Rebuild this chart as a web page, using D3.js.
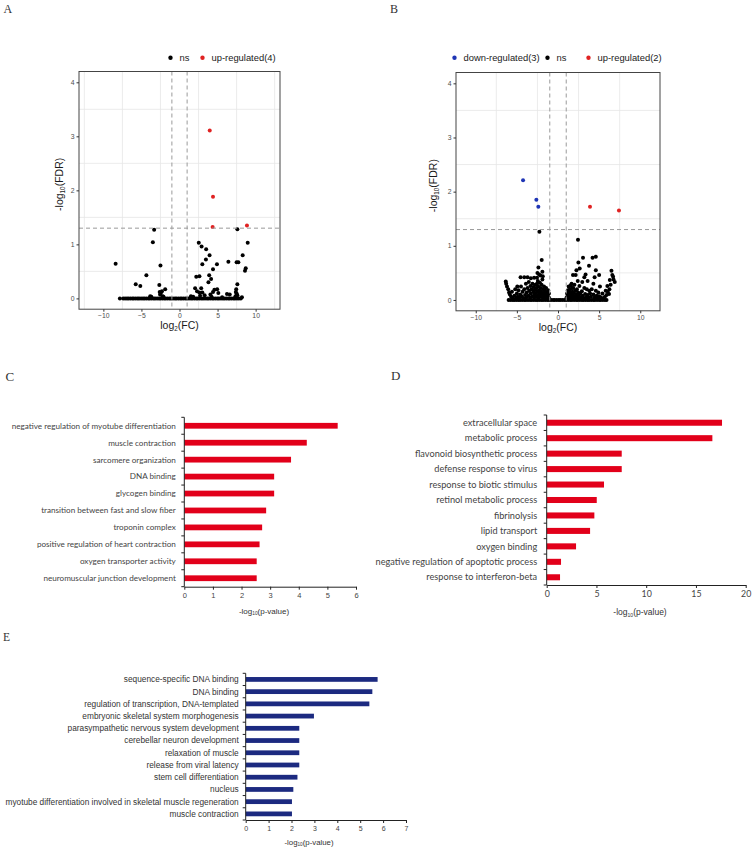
<!DOCTYPE html>
<html><head><meta charset="utf-8">
<script src="https://cdn.jsdelivr.net/npm/d3@7"></script>
<style>body{margin:0;background:#fff}</style>
</head><body>
<svg id="chart" width="753" height="851" xmlns="http://www.w3.org/2000/svg"></svg>
<script>
// ---------- Panel A (volcano) ----------
const aUp = [[3.97,3.11],[4.4,1.88],[4.35,1.32],[8.86,1.35]];
const aNs = [[-3.33,1.27],[-3.5,1.04],[-8.39,0.64],[-2.5,0.61],[-4.35,0.43],[-5.75,0.26],[-5.15,0.23],
  [-2.65,0.25],[-1.88,0.17],[-2.6,0.12],[-2.45,0.10],[-2.3,0.13],[-2.55,0.07],[-3.85,0.04],[-2.2,0.04],
  [2.53,1.03],[2.9,0.96],[3.5,0.91],[3.95,0.8],[3.47,0.72],[3.0,0.63],[4.92,0.63],[4.4,0.54],[3.9,0.43],
  [2.62,0.41],[2.2,0.40],[4.15,0.36],[3.8,0.30],[6.42,0.68],[7.5,0.67],[7.73,0.67],[8.3,0.8],[8.96,1.03],
  [8.7,0.56],[8.6,0.51],[7.6,1.28],[7.6,0.26],[7.45,0.17],[7.4,0.12],[7.5,0.09],[7.6,0.06],[7.35,0.04],
  [6.6,0.07],[5.1,0.1],[4.95,0.17],[2.05,0.19],[2.85,0.19],[2.3,0.13],[2.6,0.11],[3.0,0.11],[4.58,0.16],
  [4.4,0.12],[4.06,0.07],[6.24,0.08],[8.2,0.02],[3.3,0.06],[1.5,0.04],[1.8,0.03],[2.7,0.05],[-7.83,0],
  [-3.7,0.03],[-2.1,0.03],[1.6,0.02],[4.2,0.03],[5.6,0.02]];
const aNsBaselineX = [-7.4,-7.15,-6.9,-6.7,-6.45,-6.2,-6.0,-5.75,-5.5,-5.3,-5.05,-4.8,-4.6,-4.35,-4.1,-3.9,
  -3.65,-3.4,-3.2,-2.95,-2.7,-2.5,-2.25,-2.0,-1.8,-1.55,-1.3,-1.1,-0.85,-0.6,-0.4,-0.15,0.1,0.3,0.55,0.8,1.0,
  1.25,1.5,1.7,1.95,2.2,2.4,2.65,2.9,3.1,3.35,3.6,3.8,4.05,4.3,4.5,4.75,5.0,5.2,5.45,5.7,5.9,6.15,6.4,6.6,
  6.85,7.1,7.3,7.55,7.8,8.05];
const aLegend = ["ns", "up-regulated(4)"];

// ---------- Panel B (volcano) ----------
const bDown = [[-4.25,2.21],[-2.63,1.85],[-2.39,1.72]];
const bUp = [[3.89,1.72],[7.41,1.65]];
const bNs = [[-2.26,1.26],[2.43,1.11],[-1.98,0.74],[-2.38,0.60],[-1.9,0.52],[-6.35,0.34],[-6.3,0.30],
  [-6.2,0.25],[-6.05,0.2],[-5.95,0.14],[-5.85,0.1],[-5.7,0.06],[-4.55,0.42],[-4.1,0.42],[-3.7,0.42],
  [-3.3,0.40],[-2.9,0.41],[-2.55,0.41],[-2.3,0.47],[-2.45,0.35],
  [-5.5,0.04],[-5.3,0.08],[-5.1,0.03],[-5.0,0.12],[-4.9,0.06],[-4.8,0.18],[-4.7,0.04],[-4.6,0.1],[-4.5,0.25],
  [-4.4,0.07],[-4.3,0.15],[-4.2,0.03],[-4.1,0.2],[-4.0,0.09],[-3.9,0.3],[-3.85,0.05],[-3.8,0.14],[-3.7,0.22],
  [-3.6,0.08],[-3.55,0.33],[-3.5,0.17],[-3.4,0.04],[-3.35,0.26],[-3.3,0.12],[-3.2,0.2],[-3.15,0.07],[-3.1,0.3],
  [-3.0,0.15],[-2.95,0.24],[-2.9,0.05],[-2.85,0.1],[-2.8,0.19],[-2.75,0.28],[-2.7,0.13],[-2.65,0.06],[-2.6,0.22],
  [-2.55,0.3],[-2.5,0.16],[-2.45,0.09],[-2.4,0.25],[-2.35,0.04],[-2.3,0.18],[-2.25,0.12],[-2.2,0.32],[-2.15,0.07],
  [-2.1,0.22],[-2.05,0.15],[-2.0,0.28],[-1.95,0.1],[-1.9,0.38],[-1.85,0.05],[-1.8,0.2],[-1.75,0.13],[-1.7,0.25],
  [-1.65,0.08],[-1.6,0.17],[-1.55,0.03],[-1.5,0.11],[-1.45,0.22],[-1.4,0.06],[-1.35,0.14],[-1.3,0.04],[-1.25,0.09],
  [-1.2,0.18],[-1.15,0.05],[-1.1,0.12],[-1.05,0.03],[-2.15,0.45],[-2.5,0.5],[-1.85,0.44],[-5.2,0.2],[-5.6,0.15],
  [-4.95,0.25],
  [2.48,0.69],[3.04,0.78],[4.2,0.78],[4.6,0.8],[3.77,0.63],[2.64,0.58],[2.24,0.55],[4.6,0.55],[6.5,0.54],
  [6.7,0.43],[6.3,0.37],[6.9,0.33],[6.0,0.26],[1.82,0.46],[2.15,0.46],[2.4,0.35],[2.6,0.26],[1.55,0.27],
  [1.7,0.22],[3.2,0.22],[3.5,0.20],[3.8,0.17],[4.1,0.2],[4.6,0.17],[4.9,0.14],[5.8,0.17],[6.2,0.11],[5.4,0.12],
  [1.05,0.05],[1.1,0.12],[1.15,0.03],[1.2,0.18],[1.25,0.08],[1.3,0.25],[1.35,0.04],[1.4,0.14],[1.45,0.2],
  [1.5,0.07],[1.6,0.1],[1.65,0.3],[1.7,0.04],[1.75,0.15],[1.8,0.09],[1.85,0.22],[1.9,0.05],[1.95,0.13],
  [2.0,0.28],[2.05,0.07],[2.1,0.17],[2.2,0.03],[2.25,0.1],[2.3,0.2],[2.35,0.06],[2.45,0.14],[2.5,0.04],
  [2.55,0.09],[2.7,0.12],[2.8,0.05],[2.9,0.16],[3.0,0.08],[3.1,0.03],[3.3,0.11],[3.4,0.05],[3.6,0.09],
  [3.7,0.04],[3.9,0.12],[4.0,0.06],[4.3,0.1],[4.4,0.04],[4.7,0.08],[4.8,0.03],[5.0,0.07],[5.2,0.05],
  [5.5,0.03],[5.7,0.06],[5.9,0.09],[6.05,0.15],[6.25,0.2],[6.4,0.28],[6.6,0.46],[6.75,0.38],[3.2,0.42],
  [3.6,0.35],[2.95,0.33],[4.3,0.3],[5.1,0.25],[4.45,0.42],[5.0,0.46],[3.35,0.47]];
const bNsBaselineX = [-6.0,-5.75,-5.5,-5.3,-5.05,-4.8,-4.6,-4.35,-4.1,-3.9,-3.65,-3.4,-3.2,-2.95,-2.7,-2.5,
  -2.25,-2.0,-1.8,-1.55,-1.3,-1.1,-0.85,-0.6,-0.4,-0.15,0.1,0.3,0.55,0.8,1.0,1.25,1.5,1.7,1.95,2.2,2.4,2.65,
  2.9,3.1,3.35,3.6,3.8,4.05,4.3,4.5,4.75,5.0,5.2,5.45,5.7,5.9];
const bLegend = ["down-regulated(3)", "ns", "up-regulated(2)"];

const volcanoXTicks = [-10, -5, 0, 5, 10];
const volcanoYTicks = [0, 1, 2, 3, 4];
const volcanoXGrid = [-12.5, -7.5, -2.5, 2.5, 7.5, 12.5];
const volcanoYGrid = [0.5, 1.5, 2.5, 3.5];
const fcCutoffs = [-1, 1];
const fdrCutoff = 1.3;

// ---------- Panel C ----------
const cCategories = ["negative regulation of myotube differentiation","muscle contraction","sarcomere organization",
  "DNA binding","glycogen binding","transition between fast and slow fiber","troponin complex",
  "positive regulation of heart contraction","oxygen transporter activity","neuromuscular junction development"];
const cValues = [5.36,4.28,3.73,3.14,3.14,2.86,2.72,2.63,2.53,2.53];
const cTicks = [0,1,2,3,4,5,6];

// ---------- Panel D ----------
const dCategories = ["extracellular space","metabolic process","flavonoid biosynthetic process",
  "defense response to virus","response to biotic stimulus","retinol metabolic process","fibrinolysis",
  "lipid transport","oxygen binding","negative regulation of apoptotic process","response to interferon-beta"];
const dValues = [17.62,16.65,7.54,7.54,5.76,5.03,4.79,4.36,2.95,1.44,1.34];
const dTicks = [0,5,10,15,20];

// ---------- Panel E ----------
const eCategories = ["sequence-specific DNA binding","DNA binding","regulation of transcription, DNA-templated",
  "embryonic skeletal system morphogenesis","parasympathetic nervous system development",
  "cerebellar neuron development","relaxation of muscle","release from viral latency",
  "stem cell differentiation","nucleus","myotube differentiation involved in skeletal muscle regeneration",
  "muscle contraction"];
const eValues = [5.76,5.53,5.40,2.98,2.34,2.34,2.34,2.34,2.26,2.08,2.02,2.02];
const eTicks = [0,1,2,3,4,5,6,7];

const panelLetters = ["A","B","C","D","E"];

// =====================================================
const svg = d3.select("#chart");
svg.append("rect").attr("width",753).attr("height",851).attr("fill","#fff");

const ARIAL = "'Liberation Sans', Arial, sans-serif";
const SERIF = "'Liberation Serif', 'Times New Roman', serif";

function letter(t, x, y, size) {
  svg.append("text").attr("x", x).attr("y", y).text(t)
    .attr("font-family", SERIF).attr("font-size", size).attr("fill", "#333");
}

function subLabel(g, pre, sub, post, size) {
  const t = g.append("text").attr("font-family", ARIAL).attr("font-size", size).attr("fill", "#1a1a1a")
    .attr("text-anchor", "middle");
  t.append("tspan").text(pre);
  t.append("tspan").text(sub).attr("font-size", size * 0.6).attr("dy", size * 0.18);
  t.append("tspan").text(post).attr("dy", -size * 0.18);
  return t;
}

function volcano(o) {
  const g = svg.append("g");
  const x = d3.scaleLinear().domain(o.xDomain).range([o.left, o.right]);
  const y = d3.scaleLinear().domain(o.yDomain).range([o.bottom, o.top]);
  // grid
  g.selectAll(".vg").data(volcanoXGrid.filter(v => v > o.xDomain[0] && v < o.xDomain[1])).join("line")
    .attr("x1", d => x(d)).attr("x2", d => x(d)).attr("y1", o.top).attr("y2", o.bottom)
    .attr("stroke", "#e6e6e6").attr("stroke-width", 0.8);
  g.selectAll(".hg").data(volcanoYGrid).join("line")
    .attr("y1", d => y(d)).attr("y2", d => y(d)).attr("x1", o.left).attr("x2", o.right)
    .attr("stroke", "#e6e6e6").attr("stroke-width", 0.8);
  // points
  const r = 2;
  g.append("g").selectAll("circle").data(o.baseline).join("circle")
    .attr("cx", d => x(d)).attr("cy", y(0)).attr("r", r).attr("fill", "#000");
  g.append("g").selectAll("circle").data(o.ns).join("circle")
    .attr("cx", d => x(d[0])).attr("cy", d => y(d[1])).attr("r", r).attr("fill", "#000");
  if (o.down) g.append("g").selectAll("circle").data(o.down).join("circle")
    .attr("cx", d => x(d[0])).attr("cy", d => y(d[1])).attr("r", r).attr("fill", "#1f35b5");
  g.append("g").selectAll("circle").data(o.up).join("circle")
    .attr("cx", d => x(d[0])).attr("cy", d => y(d[1])).attr("r", r).attr("fill", "#e02222");
  // dashed cutoff lines
  g.selectAll(".vc").data(fcCutoffs).join("line")
    .attr("x1", d => x(d)).attr("x2", d => x(d)).attr("y1", o.top).attr("y2", o.bottom)
    .attr("stroke", "#9a9a9a").attr("stroke-width", 1).attr("stroke-dasharray", "4,3");
  g.append("line").attr("x1", o.left).attr("x2", o.right).attr("y1", y(fdrCutoff)).attr("y2", y(fdrCutoff))
    .attr("stroke", "#9a9a9a").attr("stroke-width", 1).attr("stroke-dasharray", "4,3");
  // border
  g.append("rect").attr("x", o.left).attr("y", o.top).attr("width", o.right - o.left)
    .attr("height", o.bottom - o.top).attr("fill", "none").attr("stroke", "#444").attr("stroke-width", 1);
  // axes
  const ax = g.append("g").attr("transform", `translate(${o.left},0)`)
    .call(d3.axisLeft(y).tickValues(volcanoYTicks).tickSize(2.5).tickPadding(2).tickFormat(d3.format("d")));
  const bx = g.append("g").attr("transform", `translate(0,${o.bottom})`)
    .call(d3.axisBottom(x).tickValues(volcanoXTicks).tickSize(2.5).tickPadding(1.5).tickFormat(d3.format("d")));
  [ax, bx].forEach(a => {
    a.select(".domain").remove();
    a.selectAll("line").attr("stroke", "#333");
    a.selectAll("text").attr("font-family", ARIAL).attr("font-size", 6.8).attr("fill", "#4d4d4d");
  });
  // axis titles
  const yl = subLabel(g, "-log", "10", "(FDR)", 10.5);
  yl.attr("transform", `translate(${o.yTitleX},${(o.top + o.bottom) / 2 - 6}) rotate(-90)`);
  const xl = subLabel(g, "log", "2", "(FC)", 10.5);
  xl.attr("transform", `translate(${(o.left + o.right) / 2},${o.bottom + 20})`);
  // legend
  const colors = {"ns": "#000", "up": "#e02222", "down": "#1f35b5"};
  o.legend.forEach((lab, i) => {
    const key = lab === "ns" ? "ns" : (lab.startsWith("up") ? "up" : "down");
    const lx = o.legendXs[i];
    g.append("circle").attr("cx", lx).attr("cy", o.legendY).attr("r", 2.2).attr("fill", colors[key]);
    g.append("text").attr("x", lx + 9).attr("y", o.legendY + 3.4).text(lab)
      .attr("font-family", ARIAL).attr("font-size", 9.4).attr("fill", "#1a1a1a");
  });
}

volcano({left: 79, right: 280, top: 71.5, bottom: 309.2, xDomain: [-13.2, 13.2], yDomain: [-0.2, 4.2],
  ns: aNs, baseline: aNsBaselineX, up: aUp, legend: aLegend, legendXs: [170.5, 202.5], legendY: 57.7, yTitleX: 63});
volcano({left: 456, right: 660, top: 72.5, bottom: 310.8, xDomain: [-12.4, 12.4], yDomain: [-0.2, 4.2],
  ns: bNs, baseline: bNsBaselineX, up: bUp, down: bDown, legend: bLegend, legendXs: [454.5, 547.5, 588.5],
  legendY: 57.7, yTitleX: 437});

// ---------- bar panels ----------
function bars(o) {
  const g = svg.append("g");
  const x = d3.scaleLinear().domain([0, o.ticks[o.ticks.length - 1]]).range([o.x0, o.x1]);
  const y = d3.scaleBand().domain(o.cats).range([o.y0, o.y1]);
  const h = y.bandwidth() * o.barFrac;
  g.selectAll("rect").data(o.cats).join("rect")
    .attr("x", x(0)).attr("y", d => y(d) + y.bandwidth() / 2 - h / 2)
    .attr("width", (d, i) => x(o.values[i]) - x(0)).attr("height", h).attr("fill", o.color);
  // y axis line and boundary ticks
  g.append("line").attr("x1", x(0)).attr("x2", x(0)).attr("y1", o.y0).attr("y2", o.y1)
    .attr("stroke", "#222").attr("stroke-width", 1);
  const bounds = o.cats.map(c => y(c)).concat([o.y1]);
  g.selectAll(".bt").data(bounds).join("line")
    .attr("x1", x(0) - 3).attr("x2", x(0)).attr("y1", d => d).attr("y2", d => d)
    .attr("stroke", "#222").attr("stroke-width", 1);
  g.selectAll(".lab").data(o.cats).join("text")
    .attr("x", x(0) - o.gap).attr("y", d => y(d) + y.bandwidth() / 2).attr("dy", "0.35em")
    .attr("text-anchor", "end").text(d => d)
    .attr("font-family", o.font).attr("font-size", o.fontSize).attr("fill", o.textColor);
  const xa = g.append("g").attr("transform", `translate(0,${o.y1})`)
    .call(d3.axisBottom(x).tickValues(o.ticks).tickSize(3).tickPadding(3).tickSizeOuter(0)
      .tickFormat(d3.format("d")));
  xa.select(".domain").attr("stroke", "#222");
  xa.selectAll("line").attr("stroke", "#222");
  xa.selectAll("text").attr("font-family", o.tickFont).attr("font-size", o.tickSize).attr("fill", "#444");
  const t = subLabel(g, "-log", "10", "(p-value)", o.titleSize);
  t.attr("transform", `translate(${o.titleX},${o.titleY})`).attr("fill", "#333");
}

bars({cats: cCategories, values: cValues, ticks: cTicks, x0: 184.3, x1: 356, y0: 417.3, y1: 586.7,
  barFrac: 0.34, color: "#e2001a", gap: 8.5, font: "Lato, sans-serif", fontSize: 8.15, textColor: "#444",
  tickFont: ARIAL, tickSize: 7.5, titleSize: 8, titleX: 264, titleY: 614});
bars({cats: dCategories, values: dValues, ticks: dTicks, x0: 546.7, x1: 745.7, y0: 415, y1: 585,
  barFrac: 0.39, color: "#e2001a", gap: 9.5, font: "Lato, sans-serif", fontSize: 9.2, textColor: "#444",
  tickFont: "Lato, sans-serif", tickSize: 8.8, titleSize: 8.5, titleX: 640, titleY: 615});
bars({cats: eCategories, values: eValues, ticks: eTicks, x0: 245.7, x1: 406, y0: 673.3, y1: 820,
  barFrac: 0.39, color: "#1c2a80", gap: 7, font: ARIAL, fontSize: 8.3, textColor: "#333",
  tickFont: ARIAL, tickSize: 7, titleSize: 7.8, titleX: 309, titleY: 845});

letter(panelLetters[0], 3.5, 12.5, 12);
letter(panelLetters[1], 390, 12.5, 12);
letter(panelLetters[2], 5.5, 380.7, 13);
letter(panelLetters[3], 391, 380, 13);
letter(panelLetters[4], 3, 640.7, 11.5);
</script>
</body></html>
